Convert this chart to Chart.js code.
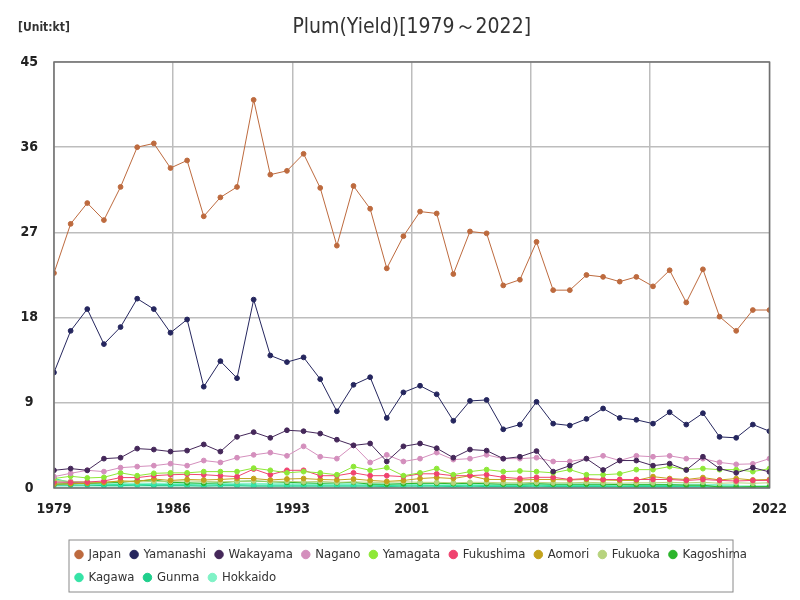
<!DOCTYPE html>
<html>
<head>
<meta charset="utf-8">
<script src="https://cdn.jsdelivr.net/npm/chart.js@4/dist/chart.umd.min.js"></script>
<style>
  html, body { margin: 0; padding: 0; background: #fff; }
  #wrap { width: 800px; height: 600px; }
</style>
</head>
<body>
<div id="wrap"><canvas id="chart" width="800" height="600"></canvas></div>
<script>
const years = [1979, 1980, 1981, 1982, 1983, 1984, 1985, 1986, 1987, 1988, 1989,
  1990, 1991, 1992, 1993, 1994, 1995, 1996, 1997, 1998, 1999, 2000, 2001, 2002,
  2003, 2004, 2005, 2006, 2007, 2008, 2009, 2010, 2011, 2012, 2013, 2014, 2015,
  2016, 2017, 2018, 2019, 2020, 2021, 2022];

const japan = [22.7, 27.9, 30.1, 28.3, 31.8, 36.0, 36.4, 33.8, 34.6, 28.7, 30.7,
  31.8, 41.0, 33.1, 33.5, 35.3, 31.7, 25.6, 31.9, 29.5, 23.2, 26.6, 29.2, 29.0,
  22.6, 27.1, 26.9, 21.4, 22.0, 26.0, 20.9, 20.9, 22.5, 22.3, 21.8, 22.3, 21.3,
  23.0, 19.6, 23.1, 18.1, 16.6, 18.8, 18.8];
const yamanashi = [12.2, 16.6, 18.9, 15.2, 17.0, 20.0, 18.9, 16.4, 17.8, 10.7, 13.4,
  11.6, 19.9, 14.0, 13.3, 13.8, 11.5, 8.1, 10.9, 11.7, 7.4, 10.1, 10.8, 9.9,
  7.1, 9.2, 9.3, 6.2, 6.7, 9.1, 6.8, 6.6, 7.3, 8.4, 7.4, 7.2, 6.8,
  8.0, 6.7, 7.9, 5.4, 5.3, 6.7, 6.0];
const wakayama = [1.87, 2.05, 1.87, 3.1, 3.2, 4.16, 4.06, 3.85, 3.95, 4.6, 3.85,
  5.4, 5.9, 5.3, 6.1, 6.0, 5.75, 5.1, 4.5, 4.7, 2.8, 4.4, 4.7, 4.2,
  3.2, 4.06, 3.95, 3.1, 3.3, 3.9, 1.73, 2.36, 3.1, 1.9, 2.9, 2.9, 2.36,
  2.57, 1.9, 3.3, 2.05, 1.6, 2.15, 1.7];
const nagano = [1.2, 1.55, 1.87, 1.73, 2.15, 2.26, 2.36, 2.57, 2.36, 2.9, 2.7,
  3.2, 3.5, 3.74, 3.4, 4.4, 3.3, 3.1, 4.5, 2.7, 3.5, 2.8, 3.1, 3.74,
  3.0, 3.1, 3.5, 3.1, 3.1, 3.2, 2.8, 2.8, 3.1, 3.4, 2.9, 3.4, 3.3,
  3.4, 3.1, 3.1, 2.7, 2.5, 2.55, 3.1];
const yamagata = [1.0, 1.24, 1.06, 1.13, 1.6, 1.3, 1.55, 1.6, 1.6, 1.73, 1.73,
  1.73, 2.1, 1.87, 1.6, 1.73, 1.6, 1.4, 2.26, 1.87, 2.15, 1.3, 1.6, 2.05,
  1.4, 1.73, 1.94, 1.73, 1.8, 1.73, 1.6, 1.94, 1.4, 1.4, 1.5, 1.94, 1.94,
  2.26, 1.94, 2.05, 1.94, 1.94, 1.73, 2.05];
const fukushima = [0.63, 0.6, 0.63, 0.74, 1.1, 1.1, 1.3, 1.4, 1.45, 1.4, 1.3,
  1.2, 2.0, 1.4, 1.87, 1.87, 1.3, 1.3, 1.6, 1.3, 1.3, 1.2, 1.5, 1.5,
  1.3, 1.3, 1.4, 1.13, 1.0, 1.13, 1.13, 0.9, 1.0, 0.9, 0.9, 0.9, 0.9,
  0.9, 0.8, 0.9, 0.8, 0.74, 0.8, 0.8];
const aomori = [0.4, 0.45, 0.5, 0.6, 0.75, 0.7, 0.95, 0.8, 0.9, 0.85, 0.9,
  1.0, 1.0, 0.85, 0.95, 1.0, 0.9, 0.85, 0.95, 0.8, 0.7, 0.8, 1.0, 1.1,
  1.0, 1.3, 0.9, 0.9, 0.85, 0.9, 0.9, 0.85, 0.9, 0.85, 0.8, 0.8, 1.2,
  1.0, 0.9, 1.1, 0.85, 1.0, 0.85, 0.9];
const fukuoka = [0.8, 0.7, 0.65, 0.6, 0.7, 0.65, 0.7, 0.7, 0.75, 0.7, 0.65,
  0.7, 0.75, 0.7, 0.7, 0.65, 0.7, 0.6, 0.65, 0.6, 0.6, 0.65, 0.6, 0.6,
  0.55, 0.6, 0.6, 0.55, 0.55, 0.6, 0.55, 0.55, 0.6, 0.55, 0.5, 0.55, 0.55,
  0.6, 0.55, 0.6, 0.5, 0.55, 0.5, 0.55];
const kagoshima = [0.4, 0.45, 0.5, 0.55, 0.6, 0.75, 0.85, 0.6, 0.55, 0.5, 0.55,
  0.7, 0.75, 0.65, 0.6, 0.55, 0.5, 0.55, 0.6, 0.4, 0.4, 0.45, 0.5, 0.5,
  0.45, 0.5, 0.45, 0.4, 0.4, 0.45, 0.4, 0.4, 0.4, 0.4, 0.35, 0.35, 0.35,
  0.35, 0.3, 0.3, 0.1, 0.1, 0.15, 0.15];
const kagawa = [1.0, 0.6, 0.45, 0.4, 0.35, 0.35, 0.4, 0.35, 0.35, 0.3, 0.35,
  0.35, 0.3, 0.3, 0.3, 0.3, 0.3, 0.3, 0.3, 0.3, 0.25, 0.3, 0.3, 0.25,
  0.25, 0.3, 0.25, 0.25, 0.25, 0.3, 0.25, 0.25, 0.25, 0.25, 0.2, 0.25, 0.25,
  0.25, 0.2, 0.2, 0.2, 0.2, 0.2, 0.2];
const gunma = [0.3, 0.3, 0.3, 0.25, 0.25, 0.3, 0.25, 0.25, 0.25, 0.2, 0.25,
  0.25, 0.2, 0.2, 0.2, 0.2, 0.2, 0.2, 0.2, 0.2, 0.15, 0.2, 0.2, 0.2,
  0.15, 0.2, 0.15, 0.15, 0.15, 0.2, 0.15, 0.15, 0.15, 0.15, 0.15, 0.15, 0.15,
  0.15, 0.15, 0.15, 0.1, 0.1, 0.1, 0.1];
const hokkaido = [0.9, 0.6, 0.55, 0.55, 0.5, 0.5, 0.5, 0.5, 0.5, 0.45, 0.5,
  0.5, 0.5, 0.45, 0.45, 0.45, 0.45, 0.45, 0.45, 0.45, 0.4, 0.45, 0.45, 0.45,
  0.4, 0.45, 0.4, 0.4, 0.4, 0.45, 0.4, 0.4, 0.4, 0.4, 0.4, 0.4, 0.4,
  0.4, 0.4, 0.4, 0.35, 0.35, null, null];

const yTicks = [0, 9, 18, 27, 36, 45];

const seriesNames = ['Japan', 'Yamanashi', 'Wakayama', 'Nagano', 'Yamagata', 'Fukushima',
  'Aomori', 'Fukuoka', 'Kagoshima', 'Kagawa', 'Gunma', 'Hokkaido'];
const seriesValues = [japan, yamanashi, wakayama, nagano, yamagata, fukushima,
  aomori, fukuoka, kagoshima, kagawa, gunma, hokkaido];
const seriesColors = ['#bd6a3e', '#25265e', '#45285a', '#d48fbd', '#8ee837', '#f0436f',
  '#c3a21c', '#b7d37e', '#2bb52b', '#35e3a6', '#1fcf8c', '#7ff2c6'];

const NARROW = '"Liberation Sans Narrow", "DejaVu Sans Condensed", Roboto, sans-serif';

const datasets = seriesNames.map(function (name, i) {
  const isHokkaido = name === 'Hokkaido';
  return {
    label: name,
    data: years.map((y, j) => ({ x: y, y: seriesValues[i][j] })),
    borderColor: seriesColors[i],
    backgroundColor: isHokkaido ? 'rgba(110, 230, 185, 0.5)' : seriesColors[i],
    pointBackgroundColor: seriesColors[i],
    pointBorderColor: seriesColors[i],
    borderWidth: 1,
    pointRadius: 2.4,
    pointHoverRadius: 3,
    fill: isHokkaido ? 'origin' : false,
    tension: 0,
    order: i
  };
});

const extras = {
  id: 'extras',
  afterInit(chart) {
    // keep the legend rows narrower so it wraps after Kagoshima
    const leg = chart.legend;
    const orig = leg.update.bind(leg);
    leg.update = function (w, h, m) { return orig(Math.min(w, 690), h, m); };
  },
  afterLayout(chart) {
    chart.legend.left = 66;
  },
  beforeDraw(chart) {
    const ctx = chart.ctx;
    ctx.save();
    ctx.fillStyle = '#fff';
    ctx.fillRect(0, 0, chart.width, chart.height);
    ctx.restore();
  },
  afterDatasetsDraw(chart) {
    const a = chart.chartArea;
    const ctx = chart.ctx;
    ctx.save();
    ctx.strokeStyle = '#707070';
    ctx.lineWidth = 1.5;
    ctx.strokeRect(a.left, a.top, a.right - a.left, a.bottom - a.top);
    ctx.restore();
  },
  afterDraw(chart) {
    const ctx = chart.ctx;
    const a = chart.chartArea;
    ctx.save();
    ctx.fillStyle = '#333';
    ctx.textBaseline = 'middle';
    ctx.textAlign = 'center';
    ctx.font = '21px ' + NARROW;
    ctx.fillText('Plum(Yield)[1979～2022]', (a.left + a.right) / 2, 28);
    ctx.textAlign = 'left';
    ctx.font = 'bold 12px ' + NARROW;
    ctx.fillText('[Unit:kt]', 18, 28);

    // frame around the legend
    const leg = chart.legend;
    const boxes = leg.legendHitBoxes || [];
    if (boxes.length) {
      let t = Infinity, b = -Infinity;
      boxes.forEach(function (h) {
        t = Math.min(t, h.top); b = Math.max(b, h.top + h.height);
      });
      ctx.strokeStyle = '#8a8a8a';
      ctx.lineWidth = 1;
      ctx.strokeRect(leg.left + 3, t - 8, 664, (b - t) + 16);
    }
    ctx.restore();
  }
};

new Chart(document.getElementById('chart'), {
  type: 'line',
  data: { datasets: datasets },
  options: {
    responsive: false,
    animation: false,
    layout: { padding: { left: 0, right: 29, top: 62, bottom: 6 } },
    plugins: {
      title: { display: false },
      tooltip: { enabled: false },
      legend: {
        position: 'bottom',
        align: 'start',
        labels: {
          usePointStyle: true,
          pointStyle: 'circle',
          boxWidth: 6,
          boxHeight: 6,
          padding: 10,
          color: '#333',
          font: { family: NARROW, size: 13 }
        }
      }
    },
    scales: {
      x: {
        type: 'linear',
        min: years[0],
        max: years[years.length - 1],
        afterBuildTicks: function (scale) {
          const span = scale.max - scale.min;
          scale.ticks = [0, 1, 2, 3, 4, 5, 6].map(i => ({ value: scale.min + span * i / 6 }));
        },
        afterFit: function (scale) { scale.height = 50; },
        grid: { color: '#bdbdbd', lineWidth: 1.5, drawTicks: false },
        border: { display: false },
        ticks: {
          padding: 13,
          color: '#222',
          maxRotation: 0,
          font: { family: NARROW, size: 14, weight: 'bold' },
          callback: v => Math.round(v)
        }
      },
      y: {
        min: yTicks[0],
        max: yTicks[yTicks.length - 1],
        afterBuildTicks: function (scale) {
          scale.ticks = yTicks.map(v => ({ value: v }));
        },
        afterFit: function (scale) { scale.width = 54; },
        grid: { color: '#bdbdbd', lineWidth: 1.5, drawTicks: false },
        border: { display: false },
        ticks: {
          crossAlign: 'center',
          padding: 16,
          color: '#222',
          font: { family: NARROW, size: 14, weight: 'bold' }
        }
      }
    }
  },
  plugins: [extras]
});
</script>
</body>
</html>
